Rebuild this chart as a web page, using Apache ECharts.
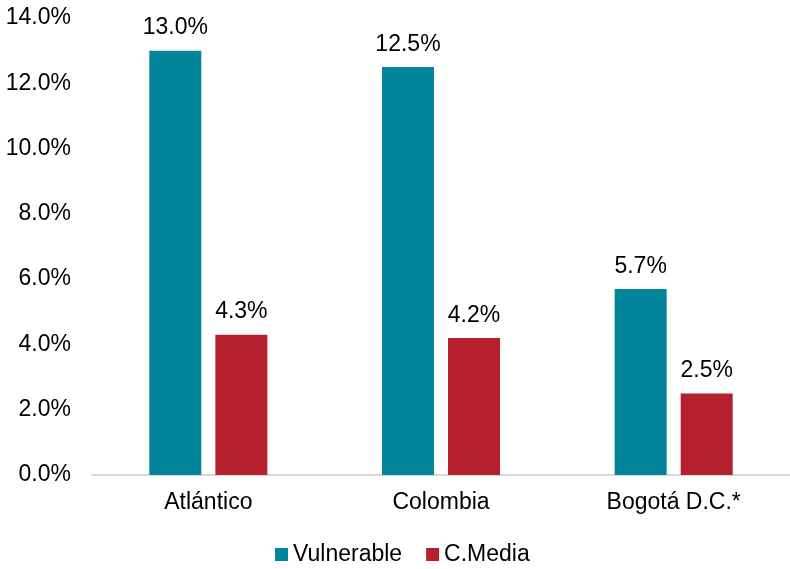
<!DOCTYPE html>
<html>
<head>
<meta charset="utf-8">
<script src="https://cdn.jsdelivr.net/npm/echarts@6/dist/echarts.min.js"></script>
<style>html,body{margin:0;padding:0;background:#fff}#c{width:790px;height:569px}</style>
</head>
<body>
<div id="c"></div>
<script>
const categories = ['Atlántico', 'Colombia', 'Bogotá D.C.*'];
const vulnerable = [13.0, 12.5, 5.7];
const cMedia = [4.3, 4.2, 2.5];
const seriesNames = ['Vulnerable', 'C.Media'];

const FONT = '"Liberation Sans", Arial, sans-serif';
const FS = 23;
const chart = echarts.init(document.getElementById('c'), null, {renderer: 'canvas'});
const lbl = {
  show: true, position: 'top', distance: 11,
  fontFamily: FONT, fontSize: FS, color: '#000',
  formatter: p => p.value.toFixed(1) + '%'
};
chart.setOption({
  animation: false,
  textStyle: {fontFamily: FONT},
  grid: {left: 92, right: 0, top: 18, bottom: 94},
  legend: {
    top: 538, left: 270,
    itemWidth: 13, itemHeight: 13, itemGap: 24,
    icon: 'rect',
    textStyle: {fontFamily: FONT, fontSize: FS, color: '#000', padding: [0, 0, 0, 0]},
    data: seriesNames
  },
  xAxis: {
    type: 'category', data: categories,
    axisLine: {lineStyle: {color: '#d9d9d9', width: 2}},
    axisTick: {show: false},
    axisLabel: {fontFamily: FONT, fontSize: FS, color: '#000', margin: 16}
  },
  yAxis: {
    type: 'value', min: 0, max: 14, interval: 2,
    axisLine: {show: false}, axisTick: {show: false},
    splitLine: {show: false},
    axisLabel: {fontFamily: FONT, fontSize: FS, color: '#000', margin: 21,
      formatter: v => v.toFixed(1) + '%'}
  },
  series: [
    {name: seriesNames[0], type: 'bar', data: vulnerable, barWidth: 52, barGap: '27%',
     itemStyle: {color: '#02849A'}, label: lbl},
    {name: seriesNames[1], type: 'bar', data: cMedia, barWidth: 52,
     itemStyle: {color: '#B6202E'}, label: lbl}
  ]
});
</script>
</body>
</html>
